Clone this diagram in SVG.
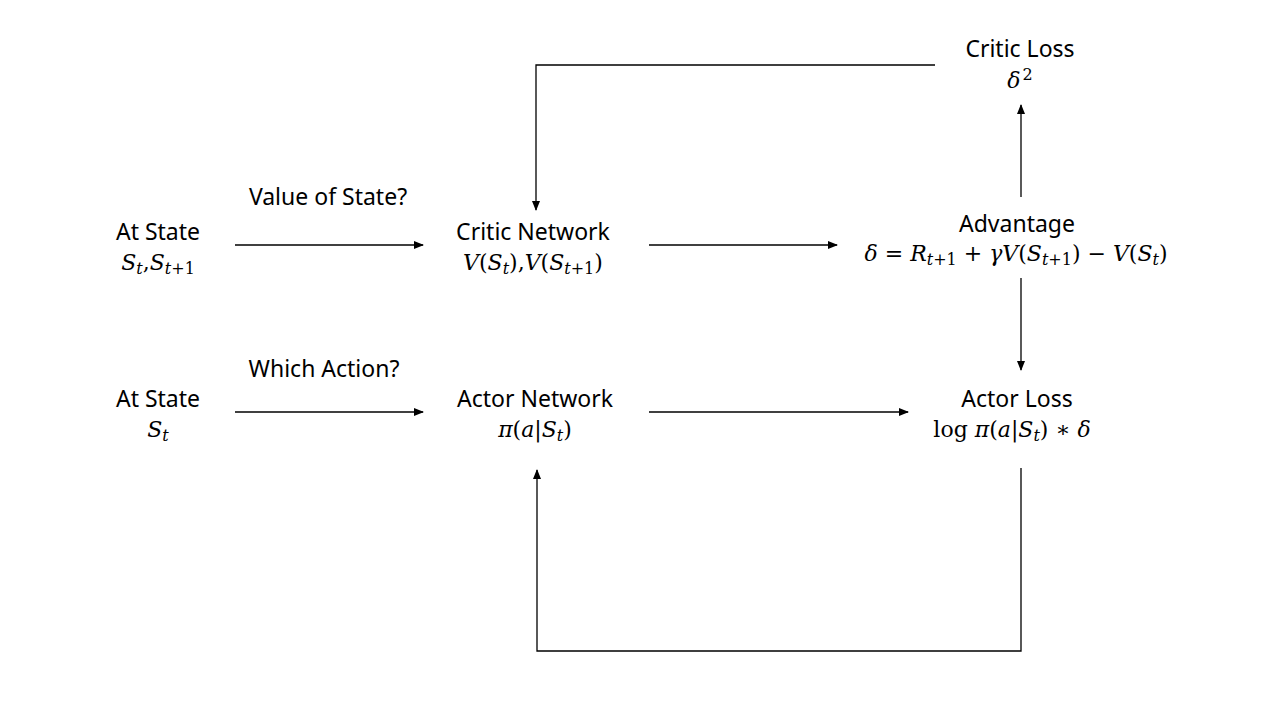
<svg xmlns="http://www.w3.org/2000/svg" width="1280" height="720" viewBox="0 0 1280 720">
<defs>
<marker id="ah" markerWidth="10" markerHeight="8" refX="9" refY="4" orient="auto" markerUnits="userSpaceOnUse">
<path d="M0,0 L10,4 L0,8 Z" fill="#000"/>
</marker>
<style>
.lbl{font-family:"Noto Sans","Open Sans","DejaVu Sans",sans-serif;font-size:23px;fill:#000;text-anchor:middle}
.m{font-family:"DejaVu Serif","Liberation Serif",serif;font-size:22px;fill:#000;text-anchor:middle}
.i{font-style:italic}
.s{font-size:16px}
.c{fill:none;stroke:#000;stroke-width:1.3;marker-end:url(#ah)}
</style>
</defs>
<rect width="1280" height="720" fill="#fff"/>
<g id="connectors">
<line class="c" x1="235" y1="245" x2="423" y2="245"/>
<line class="c" x1="649" y1="245" x2="837" y2="245"/>
<line class="c" x1="235" y1="412" x2="423" y2="412"/>
<line class="c" x1="649" y1="412" x2="908" y2="412"/>
<line class="c" x1="1021" y1="197" x2="1021" y2="105"/>
<line class="c" x1="1021" y1="278" x2="1021" y2="370"/>
<polyline class="c" points="935,65 536,65 536,210"/>
<polyline class="c" points="1021,468 1021,651 537,651 537,470"/>
<text class="lbl" x="328" y="205">Value of State?</text>
<text class="lbl" x="324" y="377">Which Action?</text>
</g>
<g id="state1">
<text class="lbl" x="158" y="240">At State</text>
<text class="m" x="158" y="270"><tspan class="i">S</tspan><tspan class="i s" dy="4">t</tspan><tspan dy="-4">,</tspan><tspan class="i">S</tspan><tspan class="s" dy="4"><tspan class="i">t</tspan>+1</tspan></text>
</g>
<g id="critic">
<text class="lbl" x="533" y="240">Critic Network</text>
<text class="m" x="533" y="270"><tspan class="i">V</tspan>(<tspan class="i">S</tspan><tspan class="i s" dy="4">t</tspan><tspan dy="-4">),</tspan><tspan class="i">V</tspan>(<tspan class="i">S</tspan><tspan class="s" dy="4"><tspan class="i">t</tspan>+1</tspan><tspan dy="-4">)</tspan></text>
</g>
<g id="advantage">
<text class="lbl" x="1017" y="232">Advantage</text>
<text class="m" x="1016" y="261"><tspan class="i">δ</tspan> = <tspan class="i">R</tspan><tspan class="s" dy="4"><tspan class="i">t</tspan>+1</tspan><tspan dy="-4"> + </tspan><tspan class="i">γV</tspan>(<tspan class="i">S</tspan><tspan class="s" dy="4"><tspan class="i">t</tspan>+1</tspan><tspan dy="-4">) − </tspan><tspan class="i">V</tspan>(<tspan class="i">S</tspan><tspan class="i s" dy="4">t</tspan><tspan dy="-4">)</tspan></text>
</g>
<g id="criticloss">
<text class="lbl" x="1020" y="57">Critic Loss</text>
<text class="m" x="1020" y="88"><tspan class="i">δ</tspan><tspan class="s" dx="2" dy="-8">2</tspan></text>
</g>
<g id="state2">
<text class="lbl" x="158" y="407">At State</text>
<text class="m" x="158" y="437"><tspan class="i">S</tspan><tspan class="i s" dy="4">t</tspan></text>
</g>
<g id="actor">
<text class="lbl" x="535" y="407">Actor Network</text>
<text class="m" x="535" y="437"><tspan class="i">π</tspan>(<tspan class="i">a</tspan>|<tspan class="i">S</tspan><tspan class="i s" dy="4">t</tspan><tspan dy="-4">)</tspan></text>
</g>
<g id="actorloss">
<text class="lbl" x="1017" y="407">Actor Loss</text>
<text class="m" x="1012" y="437">log <tspan class="i">π</tspan>(<tspan class="i">a</tspan>|<tspan class="i">S</tspan><tspan class="i s" dy="4">t</tspan><tspan dy="-4">) ∗ </tspan><tspan class="i">δ</tspan></text>
</g>
</svg>
